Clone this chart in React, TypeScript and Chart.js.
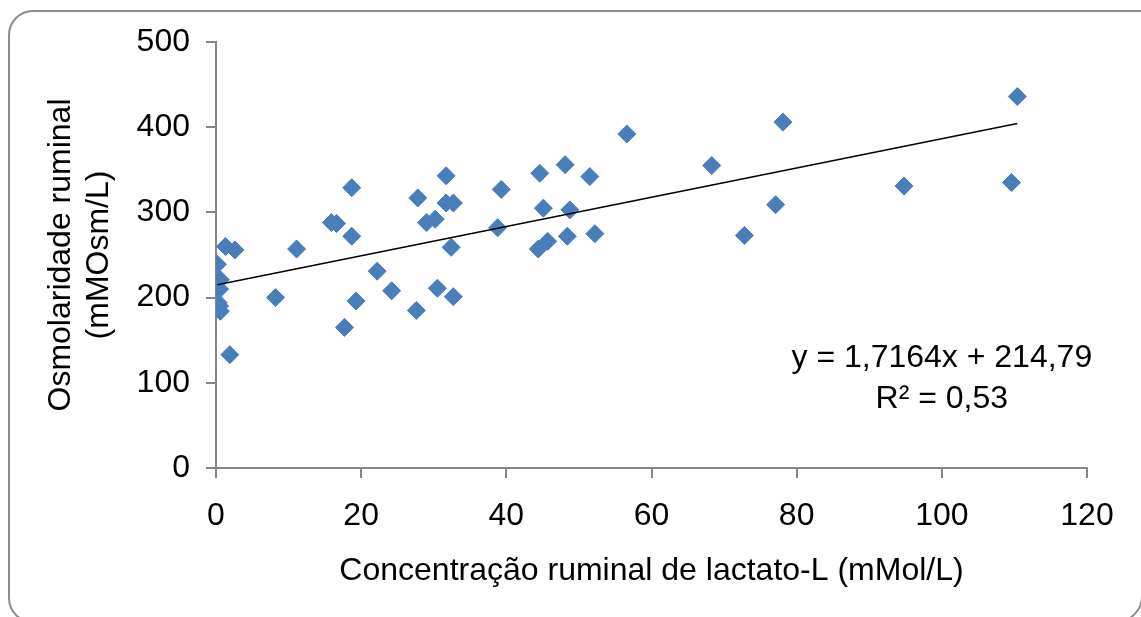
import React, { useEffect, useRef } from "react";
import { Chart, registerables } from "chart.js";

Chart.register(...registerables);

// Concentração ruminal de lactato-L (mMol/L)
const xValues = [
  0.2, 0.6, 0.5, 0.3, 0.5, 0.6, 1.3, 2.6, 1.9, 8.2,
  11.1, 15.9, 16.6, 17.7, 18.7, 18.7, 19.3, 22.2, 24.2, 27.6,
  27.8, 29.0, 30.2, 30.5, 31.7, 31.7, 32.7, 32.4, 32.7, 38.8,
  39.3, 44.4, 44.6, 45.1, 45.7, 48.1, 48.4, 48.75, 51.5, 52.2,
  56.6, 68.3, 72.8, 77.1, 78.1, 94.8, 109.6, 110.4,
];
// Osmolaridade ruminal (mMOsm/L)
const yValues = [
  239, 221, 210, 194, 190, 184, 260, 256, 133, 200,
  257, 288, 287, 165, 329, 272, 196, 231, 208, 185,
  317, 288, 292, 211, 343, 311, 311, 259, 201, 282,
  327, 257, 346, 305, 266, 356, 272, 303, 342, 275,
  392, 355, 273, 309, 406, 331, 335, 436,
];

const xTickValues = [0, 20, 40, 60, 80, 100, 120];
const yTickValues = [0, 100, 200, 300, 400, 500];

const trendSlope = 1.7164;
const trendIntercept = 214.79;
const equationLines = ["y = 1,7164x + 214,79", "R² = 0,53"];

const xTitle = "Concentração ruminal de lactato-L (mMol/L)";
const yTitle = ["Osmolaridade ruminal", "(mMOsm/L)"];

const FONT = "'Liberation Sans', Arial, Helvetica, sans-serif";
const FONT_SIZE = 32;
const AXIS_GREY = "#868686";
const MARKER_BLUE = "#4a7ebb";

export default function App() {
  const canvasRef = useRef<HTMLCanvasElement | null>(null);

  useEffect(() => {
    const canvas = canvasRef.current;
    if (!canvas) return;

    const points = xValues.map((x, i) => ({ x, y: yValues[i] }));
    const xmin = Math.min(...xValues);
    const xmax = Math.max(...xValues);
    const trend = [
      { x: xmin, y: trendSlope * xmin + trendIntercept },
      { x: xmax, y: trendSlope * xmax + trendIntercept },
    ];

    const framePlugin = {
      id: "frame",
      beforeDraw(chart: any) {
        const ctx = chart.ctx;
        ctx.save();
        ctx.fillStyle = "#ffffff";
        ctx.fillRect(0, 0, chart.width, chart.height);
        ctx.restore();
      },
      afterDraw(chart: any) {
        const ctx = chart.ctx;
        ctx.save();
        // rounded outer border (right and bottom edges run off the picture)
        const l = 9, t = 11, r = 1142, b = 622, rad = 24, radBR = 26;
        ctx.strokeStyle = "#8c8c8c";
        ctx.lineWidth = 2;
        ctx.beginPath();
        ctx.moveTo(l + rad, t);
        ctx.lineTo(r + 4, t);
        ctx.moveTo(r, t + 2);
        ctx.lineTo(r, b - radBR);
        ctx.arcTo(r, b, r - radBR, b, radBR);
        ctx.lineTo(l + rad, b);
        ctx.arcTo(l, b, l, b - rad, rad);
        ctx.lineTo(l, t + rad);
        ctx.arcTo(l, t, l + rad, t, rad);
        ctx.stroke();

        // trendline equation
        const xs = chart.scales.x;
        const ys = chart.scales.y;
        ctx.fillStyle = "#000000";
        ctx.font = `${FONT_SIZE}px ${FONT}`;
        ctx.textAlign = "center";
        ctx.textBaseline = "middle";
        const cx = xs.getPixelForValue(100);
        ctx.fillText(equationLines[0], cx, ys.getPixelForValue(129));
        ctx.fillText(equationLines[1], cx, ys.getPixelForValue(81));
        ctx.restore();
      },
    };

    const tickFont = { family: FONT, size: FONT_SIZE };

    const chart = new Chart(canvas, {
      type: "scatter",
      data: {
        datasets: [
          {
            type: "line",
            data: trend,
            borderColor: "#000000",
            borderWidth: 1.5,
            pointRadius: 0,
            fill: false,
            order: 0,
          } as any,
          {
            data: points,
            pointStyle: "rectRot",
            pointRadius: 9,
            pointHoverRadius: 9,
            backgroundColor: MARKER_BLUE,
            borderColor: MARKER_BLUE,
            borderWidth: 1,
            order: 1,
          },
        ],
      },
      options: {
        responsive: false,
        animation: false,
        devicePixelRatio: 1,
        layout: { padding: { left: 0, top: 42, right: 54, bottom: 0 } },
        plugins: {
          legend: { display: false },
          tooltip: { enabled: false },
        },
        scales: {
          x: {
            type: "linear",
            min: 0,
            max: 120,
            afterBuildTicks: (s: any) => {
              s.ticks = xTickValues.map((v) => ({ value: v }));
            },
            afterFit: (s: any) => {
              s.height = 149;
            },
            ticks: {
              color: "#000000",
              font: tickFont,
              padding: 19,
              maxRotation: 0,
              autoSkip: false,
            },
            grid: {
              drawOnChartArea: false,
              drawTicks: true,
              tickLength: 10,
              color: AXIS_GREY,
              lineWidth: 2,
            },
            border: { display: true, color: AXIS_GREY, width: 2 },
            title: {
              display: true,
              text: xTitle,
              color: "#000000",
              font: tickFont,
              padding: { top: 0, bottom: 27 },
            },
          },
          y: {
            type: "linear",
            min: 0,
            max: 500,
            afterBuildTicks: (s: any) => {
              s.ticks = yTickValues.map((v) => ({ value: v }));
            },
            afterFit: (s: any) => {
              s.width = 216;
            },
            ticks: {
              color: "#000000",
              font: tickFont,
              padding: 16,
              autoSkip: false,
            },
            grid: {
              drawOnChartArea: false,
              drawTicks: true,
              tickLength: 10,
              color: AXIS_GREY,
              lineWidth: 2,
            },
            border: { display: true, color: AXIS_GREY, width: 2 },
            title: {
              display: true,
              text: yTitle,
              color: "#000000",
              font: tickFont,
              padding: { top: 42, bottom: 0 },
            },
          },
        },
      } as any,
      plugins: [framePlugin],
    });

    return () => {
      chart.destroy();
    };
  }, []);

  return (
    <div
      style={{
        position: "fixed",
        left: 0,
        top: 0,
        width: 1141,
        height: 617,
        background: "#ffffff",
      }}
    >
      <canvas
        ref={canvasRef}
        width={1141}
        height={617}
        style={{ display: "block", width: 1141, height: 617 }}
      />
    </div>
  );
}
